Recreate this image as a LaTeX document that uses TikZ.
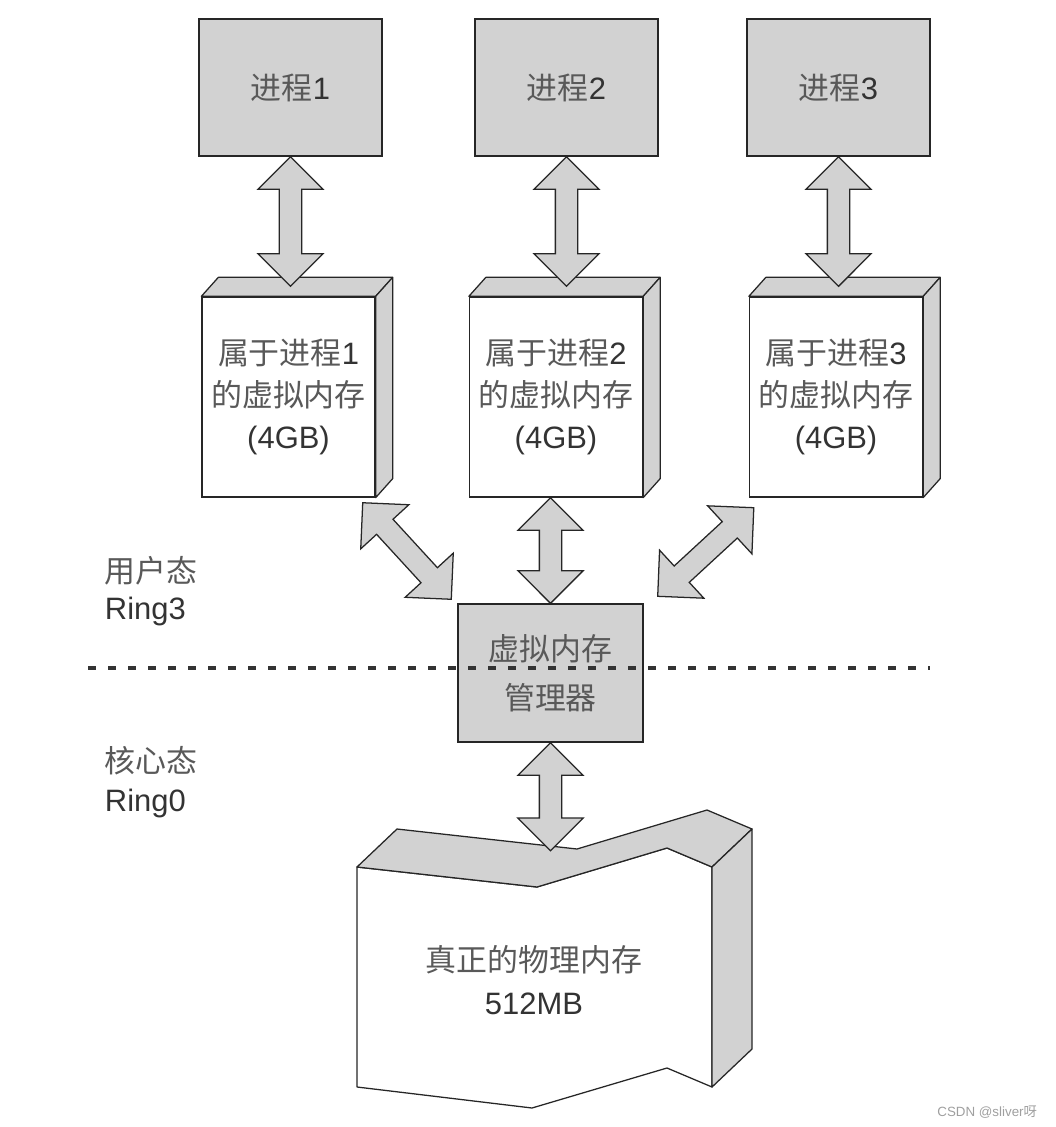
\documentclass[tikz,border=0pt]{standalone}
\usepackage{fontspec}
\setmainfont{Liberation Sans}
\newfontfamily\cjk{Noto Sans CJK SC}
\usetikzlibrary{shapes.arrows,calc,positioning}

\tikzset{
    txt/.style={text=black!80, font=\fontsize{22}{30}\selectfont},
    procbox/.style={txt, draw=black!85, line width=0.9pt, fill=gray!35, minimum width=4.575cm, minimum height=3.425cm, inner sep=0pt},
    membox/.style={txt, draw=black!85, line width=0.9pt, fill=white, minimum width=4.325cm, minimum height=5cm, align=center, inner sep=0pt},
    face/.style={draw=black!85, line width=0.9pt, fill=gray!35, line join=round},
    fatarrow/.style={double arrow, draw=black!85, line width=0.9pt, fill=gray!35, inner xsep=0pt, inner ysep=0.2625cm, double arrow head extend=0.5375cm},
}
\newcommand{\zh}[1]{{\cjk\color{black!65}#1}}
\newcommand{\slab}[1]{%
    \draw[face] (#1.north west) -- ++(17,-19) -- ($(#1.north east)+(17,-19)$) -- (#1.north east) -- cycle;
    \draw[face] (#1.north east) -- ++(17,-19) -- ($(#1.south east)+(17,-19)$) -- (#1.south east) -- cycle;}
\newcommand{\bigarrow}[2]{%
    \path let \p1=($(#2)-(#1)$), \n1={veclen(\x1,\y1)} in (#1) -- (#2) node[fatarrow, midway, sloped, minimum height=\n1] {};}

\begin{document}
\begin{tikzpicture}[x=0.025cm, y=-0.025cm]
        \useasboundingbox (0,0) rectangle (1056,1127);

        \node[procbox] (p1) at (290.5, 87.5) {\zh{进程}1};
        \node[procbox] (p2) at (566.5, 87.5) {\zh{进程}2};
        \node[procbox] (p3) at (838.5, 87.5) {\zh{进程}3};

        \node[membox] (vm1) at (288.5, 397) {\zh{属于进程}1\\\zh{的虚拟内存}\\(4GB)};
        \slab{vm1}
        \node[membox] (vm2) at (556, 397) {\zh{属于进程}2\\\zh{的虚拟内存}\\(4GB)};
        \slab{vm2}
        \node[membox] (vm3) at (836, 397) {\zh{属于进程}3\\\zh{的虚拟内存}\\(4GB)};
        \slab{vm3}

        \path (p1.south |- vm1.north) ++(0,-10) coordinate (vm1top);
        \path (p2.south |- vm2.north) ++(0,-10) coordinate (vm2top);
        \path (p3.south |- vm3.north) ++(0,-10) coordinate (vm3top);
        \bigarrow{p1.south}{vm1top}
        \bigarrow{p2.south}{vm2top}
        \bigarrow{p3.south}{vm3top}

        \node[procbox, minimum width=4.625cm, minimum height=3.45cm, align=center, font=\fontsize{22}{35}\selectfont] (vmm) at (550.5, 673) {\zh{虚拟内存}\\\zh{管理器}};

        \coordinate (d1a) at ($(vm1.south east)+(-13,5)$);
        \coordinate (d1b) at ($(vmm.north west)+(-6,-4)$);
        \coordinate (d3a) at ($(vm3.south west)+(5,10)$);
        \coordinate (d3b) at ($(vmm.north east)+(14,-7)$);
        \path (vmm.north |- vm2.south) coordinate (vm2bot);
        \bigarrow{d1a}{d1b}
        \bigarrow{vm2bot}{vmm.north}
        \bigarrow{d3a}{d3b}

        \draw[black!80, line width=2.4pt, dash pattern=on 0.2cm off 0.3cm] (88,668) -- (930,668);

        \node[txt, anchor=west, align=left, font=\fontsize{22}{26}\selectfont] (user) at (100, 591) {\zh{用户态}\\Ring3};
        \node[txt, anchor=west, align=left, font=\fontsize{22}{28}\selectfont] (kern) at (100, 782) {\zh{核心态}\\Ring0};

        % physical memory
        \draw[face, fill=white] (357,867) -- (537,887) -- (667,848) -- (712,867) -- (712,1087) -- (667,1068) -- (532,1108) -- (357,1087) -- cycle;
        \draw[face] (357,867) -- (397,829) -- (577,849) -- (707,810) -- (752,829) -- (712,867) -- (667,848) -- (537,887) -- cycle;
        \draw[face] (712,867) -- (752,829) -- (752,1049) -- (712,1087) -- cycle;
        \node[txt, align=center, font=\fontsize{22}{31}\selectfont] (pm) at (534, 980) {\zh{真正的物理内存}\\512MB};

        \coordinate (pmtop) at ($(vmm.south)+(0,108)$);
        \bigarrow{vmm.south}{pmtop}

        \node[anchor=east, text=gray!75, font=\fontsize{9.5}{11}\selectfont] (mark) at (1042, 1112) {CSDN @sliver{\cjk 呀}};
    \end{tikzpicture}
\end{document}
